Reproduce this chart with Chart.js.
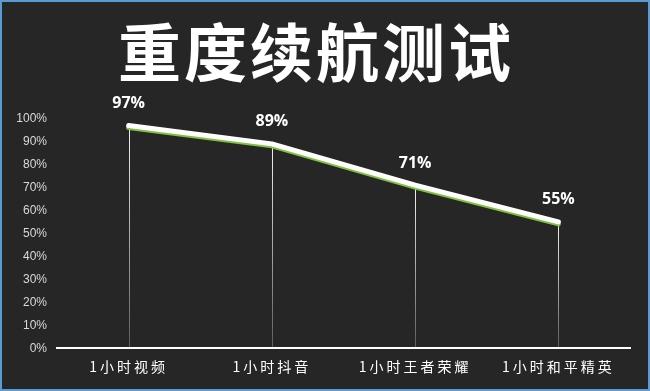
<!DOCTYPE html>
<html>
<head>
<meta charset="utf-8">
<script src="https://cdn.jsdelivr.net/npm/chart.js@4/dist/chart.umd.min.js"></script>
<style>
  html, body { margin: 0; padding: 0; background: #262626; }
  #wrap { width: 650px; height: 391px; box-sizing: border-box; border: 2px solid #5b9bd5; background: #262626; }
  canvas { display: block; }
</style>
</head>
<body>
<div id="wrap"><canvas id="c" width="646" height="387"></canvas></div>
<script>
const titleText = '重度续航测试';
const categories = ['1小时视频', '1小时抖音', '1小时王者荣耀', '1小时和平精英'];
const values = [97, 89, 71, 55];
const yTicks = [0, 10, 20, 30, 40, 50, 60, 70, 80, 90, 100];

// drop lines, green under-stroke offset, value labels, letter spacing toggles
const dropLines = {
  id: 'dropLines',
  beforeDraw(chart) {
    chart.ctx.letterSpacing = '3px';
  },
  beforeDatasetsDraw(chart) {
    const ctx = chart.ctx;
    ctx.letterSpacing = '0px';
    const meta = chart.getDatasetMeta(0);
    const bottom = chart.scales.y.getPixelForValue(0);
    ctx.save();
    meta.data.forEach(pt => {
      const g = ctx.createLinearGradient(0, pt.y, 0, bottom);
      g.addColorStop(0, 'rgba(255,255,255,0.95)');
      g.addColorStop(1, 'rgba(255,255,255,0.25)');
      ctx.strokeStyle = g;
      ctx.lineWidth = 1;
      ctx.beginPath();
      ctx.moveTo(Math.round(pt.x) + 0.5, pt.y);
      ctx.lineTo(Math.round(pt.x) + 0.5, bottom);
      ctx.stroke();
    });
    ctx.restore();
  },
  beforeDatasetDraw(chart, args) {
    if (args.index === 1) {
      chart.ctx.save();
      chart.ctx.translate(0, 2);
    }
  },
  afterDatasetDraw(chart, args) {
    if (args.index === 1) chart.ctx.restore();
  },
  afterDatasetsDraw(chart) {
    const ctx = chart.ctx;
    const meta = chart.getDatasetMeta(0);
    ctx.save();
    ctx.fillStyle = '#ffffff';
    ctx.font = 'bold 16px "Open Sans", "Noto Sans", sans-serif';
    ctx.textAlign = 'center';
    ctx.textBaseline = 'middle';
    meta.data.forEach((pt, i) => {
      ctx.fillText(values[i] + '%', pt.x, pt.y - 22);
    });
    ctx.restore();
  }
};

new Chart(document.getElementById('c'), {
  type: 'line',
  data: {
    labels: categories,
    datasets: [
      {
        data: values,
        borderColor: '#ffffff',
        borderWidth: 5,
        borderCapStyle: 'round',
        borderJoinStyle: 'round',
        pointRadius: 0,
        tension: 0
      },
      {
        data: values,
        borderColor: '#7fc241',
        borderWidth: 5,
        borderCapStyle: 'round',
        pointRadius: 0,
        tension: 0
      }
    ]
  },
  options: {
    responsive: false,
    animation: false,
    layout: { padding: { left: 0, right: 18, top: 0, bottom: 12 } },
    plugins: {
      legend: { display: false },
      tooltip: { enabled: false },
      title: {
        display: true,
        text: titleText,
        color: '#ffffff',
        font: { family: '"Noto Sans CJK SC", sans-serif', size: 63, weight: 'bold', lineHeight: 1.2 },
        padding: { top: 12, bottom: 29 }
      }
    },
    scales: {
      x: {
        offset: true,
        grid: { display: false },
        border: { display: true, color: '#ffffff', width: 2 },
        ticks: {
          z: 0,
          color: '#ffffff',
          padding: 2,
          maxRotation: 0,
          font: { family: '"Noto Sans CJK SC", sans-serif', size: 14 }
        }
      },
      y: {
        min: 0,
        max: 100,
        afterBuildTicks(scale) {
          scale.ticks = yTicks.map(v => ({ value: v }));
        },
        afterFit(scale) { scale.width = 55; },
        grid: { display: false, drawTicks: false },
        border: { display: false },
        ticks: {
          z: 1,
          color: '#d9d9d9',
          padding: 10,
          font: { family: '"Liberation Sans", Arial, sans-serif', size: 12 },
          callback: v => v + '%'
        }
      }
    }
  },
  plugins: [dropLines]
});
</script>
</body>
</html>
